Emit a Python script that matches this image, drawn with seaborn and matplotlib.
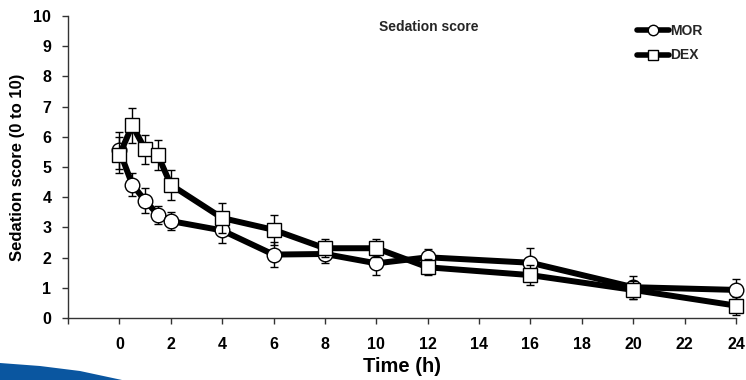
import numpy as np
import pandas as pd
import matplotlib
matplotlib.use("Agg")
import matplotlib.pyplot as plt
import seaborn as sns
from matplotlib.patches import Polygon
from matplotlib.lines import Line2D

time_h = [0, 0.5, 1, 1.5, 2, 4, 6, 8, 10, 12, 16, 20, 24]
mor_mean = [5.55, 4.42, 3.89, 3.42, 3.21, 2.9, 2.1, 2.12, 1.81, 2.01, 1.83, 1.02, 0.93]
mor_err = [0.6, 0.38, 0.4, 0.3, 0.3, 0.42, 0.42, 0.3, 0.4, 0.27, 0.48, 0.38, 0.36]
dex_mean = [5.39, 6.38, 5.59, 5.39, 4.41, 3.31, 2.92, 2.31, 2.31, 1.68, 1.42, 0.93, 0.41]
dex_err = [0.6, 0.59, 0.48, 0.49, 0.5, 0.49, 0.49, 0.29, 0.29, 0.26, 0.33, 0.3, 0.3]
groups = ["MOR", "DEX"]
x_ticks = list(range(0, 25, 2))
y_ticks = list(range(0, 11))

df = pd.concat([
    pd.DataFrame({"time": time_h, "score": mor_mean, "group": "MOR"}),
    pd.DataFrame({"time": time_h, "score": dex_mean, "group": "DEX"}),
])

sns.set_theme(style="ticks")
plt.rcParams["font.family"] = ["Liberation Sans", "DejaVu Sans"]
plt.rcParams["font.weight"] = "bold"

fig = plt.figure(figsize=(7.46, 3.80), dpi=100)
ax = fig.add_axes([68 / 746, 1 - 318 / 380, (736 - 68) / 746, (318 - 16) / 380])

# error bars
ax.errorbar(time_h, mor_mean, yerr=mor_err, fmt="none", ecolor="black",
            elinewidth=1.0, capsize=3, capthick=1.0, zorder=2, clip_on=False)
ax.errorbar(time_h, dex_mean, yerr=dex_err, fmt="none", ecolor="black",
            elinewidth=1.0, capsize=3, capthick=1.0, zorder=4, clip_on=False)

sns.lineplot(data=df[df.group == "MOR"], x="time", y="score", ax=ax, color="black",
             linewidth=4.3, marker="o", markersize=10.5, markerfacecolor="white",
             markeredgecolor="black", markeredgewidth=1.0, zorder=3, legend=False,
             clip_on=False)
sns.lineplot(data=df[df.group == "DEX"], x="time", y="score", ax=ax, color="black",
             linewidth=4.3, marker="s", markersize=10, markerfacecolor="white",
             markeredgecolor="black", markeredgewidth=1.0, zorder=5, legend=False,
             clip_on=False)

ax.set_xlim(-2, 24)
ax.set_ylim(0, 10)
ax.set_xticks([-2] + x_ticks)
ax.set_xticklabels([""] + [str(t) for t in x_ticks])
ax.set_yticks(y_ticks)
ax.set_yticklabels([str(t) for t in y_ticks])
ax.tick_params(axis="both", direction="out", length=4, width=1, color="#333333",
               labelsize=11.5, labelcolor="black")
for lab in ax.get_xticklabels() + ax.get_yticklabels():
    lab.set_fontweight("bold")
ax.tick_params(axis="x", pad=10)
ax.tick_params(axis="y", pad=8)
sns.despine(ax=ax)
for s in ["left", "bottom"]:
    ax.spines[s].set_linewidth(1.0)
    ax.spines[s].set_color("#333333")

ax.set_xlabel("Time (h)", fontsize=14.5, fontweight="bold", labelpad=3, color="black")
ax.set_ylabel("Sedation score (0 to 10)", fontsize=12, fontweight="bold",
              labelpad=6, color="black")

fig.text(379 / 746, 1 - 27 / 380, "Sedation score", fontsize=10, fontweight="bold",
         va="center", ha="left")

handles = [
    Line2D([], [], color="black", linewidth=4, marker="o", markersize=7.5,
           markerfacecolor="white", markeredgecolor="black", markeredgewidth=1),
    Line2D([], [], color="black", linewidth=4, marker="s", markersize=7,
           markerfacecolor="white", markeredgecolor="black", markeredgewidth=1),
]
leg = fig.legend(handles, groups, loc="upper left",
                 bbox_to_anchor=(637 / 746, 1 - 24 / 380), frameon=False,
                 handlelength=2.3, handletextpad=0.05, labelspacing=0.75,
                 prop={"size": 10, "weight": "bold"}, borderaxespad=0, borderpad=0)

# decorative blue swoosh at bottom-left
swoosh = Polygon([(0, 1 - 363 / 380), (40 / 746, 1 - 366 / 380), (80 / 746, 1 - 371 / 380),
                  (122 / 746, 1 - 380 / 380), (0, 0)], closed=True,
                 transform=fig.transFigure, facecolor="#0a56a0", edgecolor="none")
fig.patches.append(swoosh)

fig.savefig("out.png", dpi=100)
